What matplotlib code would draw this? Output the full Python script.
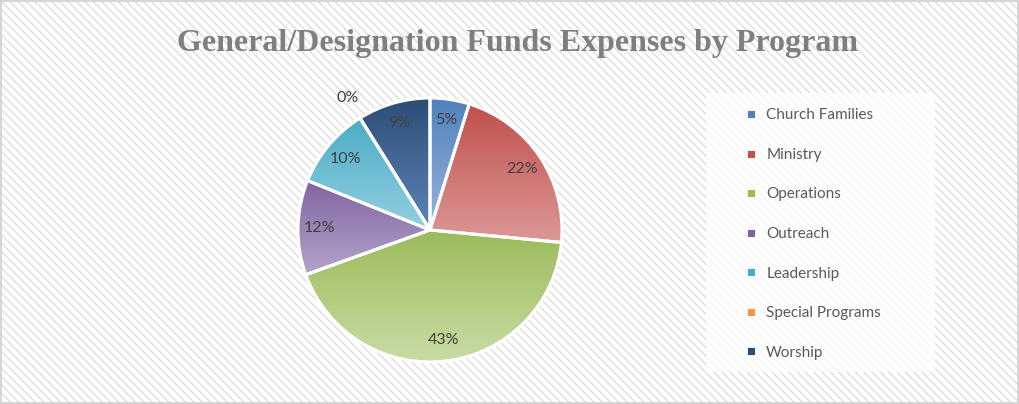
import numpy as np
import matplotlib
matplotlib.use("Agg")
import matplotlib.pyplot as plt
from matplotlib.colors import to_rgb
from matplotlib.lines import Line2D
from matplotlib.patches import Rectangle

# =========================
# DATA
# =========================
programs = ["Church Families", "Ministry", "Operations", "Outreach",
            "Leadership", "Special Programs", "Worship"]
shares = [4.8, 21.7, 43.0, 11.6, 10.0, 0.0, 8.9]
top_colors = ["#4f81bd", "#c0504d", "#9bbb59", "#8064a2", "#4bacc6", "#f79646", "#2c4d75"]
bottom_colors = ["#9bb5dc", "#dc9896", "#c9dca5", "#b4a4ca", "#93d0e0", "#fac08f", "#5f85ba"]
title = "General/Designation Funds Expenses by Program"

W, H = 1019, 404
fig = plt.figure(figsize=(W / 100, H / 100), dpi=100)

# hatched background like the excel chart area
plt.rcParams['hatch.linewidth'] = 1.0
plt.rcParams['hatch.color'] = '#dedede'
bg = Rectangle((0, 0), 1, 1, transform=fig.transFigure, facecolor='white',
               edgecolor='#dedede', hatch='\\\\\\\\', linewidth=0, zorder=-10)
fig.patches.append(bg)
border = Rectangle((0.001, 0.002), 0.998, 0.996, transform=fig.transFigure,
                   facecolor='none', edgecolor='#d0d0d0', linewidth=1.2, zorder=-9)
fig.patches.append(border)

# =========================
# PIE
# =========================
cx, cy, r = 430, 230, 132
lim = 1.25
side = 2 * lim * r
ax = fig.add_axes([(cx - side / 2) / W, (H - cy - side / 2) / H, side / W, side / H])
ax.set_xlim(-lim, lim)
ax.set_ylim(-lim, lim)
ax.set_aspect('equal')
ax.axis('off')

wedges, texts, autotexts = ax.pie(
    shares, startangle=90, counterclock=False, radius=1,
    colors=top_colors, autopct=lambda p: f"{p:.0f}%", pctdistance=0.84,
    wedgeprops=dict(linewidth=0), textprops=dict(color='#404040', fontsize=11.5, family='Lato'))

# gradient fill per wedge (top darker, bottom lighter)
for w, c_top, c_bot in zip(wedges, top_colors, bottom_colors):
    ext = w.get_path().get_extents()
    if ext.width < 1e-6:
        continue
    t = np.linspace(0, 1, 256)[:, None]
    grad = (1 - t) * np.array(to_rgb(c_top)) + t * np.array(to_rgb(c_bot))
    grad = grad[:, None, :]
    im = ax.imshow(grad, extent=(ext.x0, ext.x1, ext.y0, ext.y1), origin='upper',
                   interpolation='bilinear', aspect='auto', zorder=1)
    im.set_clip_path(w)
    w.set_facecolor('none')
    w.set_edgecolor('white')
    w.set_linewidth(2.2)
    w.set_zorder(2)

ax.set_xlim(-lim, lim)
ax.set_ylim(-lim, lim)

for t in autotexts:
    t.set_zorder(3)

# the 0% label sits outside the pie
zero = shares.index(0.0)
ang = np.deg2rad(90 - 360 * sum(shares[:zero]) / sum(shares))
autotexts[zero].set_position((1.18 * np.cos(ang), 1.18 * np.sin(ang)))
for t in texts:
    t.set_visible(False)

# =========================
# LEGEND
# =========================
fig.patches.append(Rectangle((706 / W, (H - 372) / H), 229 / W, 279 / H,
                             transform=fig.transFigure, facecolor='white',
                             edgecolor='none', alpha=0.75, zorder=-5))
handles = [Line2D([], [], marker='s', linestyle='none', markersize=5.5,
                  markerfacecolor=c, markeredgecolor='white', markeredgewidth=0.6)
           for c in top_colors]
fig.legend(handles, programs, loc='center left', bbox_to_anchor=(731 / W, (H - 234) / H),
           frameon=False, labelspacing=1.67, handlelength=0.8, handletextpad=0.6,
           prop=dict(family='Lato', size=11), labelcolor='#595959')

# =========================
# TITLE
# =========================
fig.text(0.508, (H - 44) / H, title, ha='center', va='center',
         fontsize=23, fontweight='bold', family='Liberation Serif', color='#7f7f7f')

fig.savefig("out.png", dpi=100)
